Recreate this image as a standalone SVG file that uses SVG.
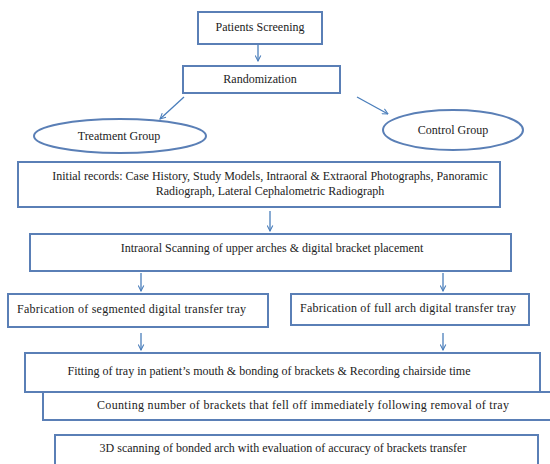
<svg xmlns="http://www.w3.org/2000/svg" width="550" height="464" viewBox="0 0 550 464">
<defs>
<style>
.box{fill:#fff;stroke:#5a7fb6;stroke-width:2}
.t{font-family:"Liberation Serif","Times New Roman",serif;font-size:12px;fill:#222}
.c{text-anchor:middle}
.ar{stroke:#4a7ebb;stroke-width:1.3;fill:none;marker-end:url(#ah)}
</style>
<marker id="ah" viewBox="0 0 10 10" refX="9" refY="5" markerWidth="7" markerHeight="7" orient="auto" markerUnits="userSpaceOnUse">
<path d="M1,1 L9,5 L1,9" fill="none" stroke="#4a7ebb" stroke-width="1.5"/>
</marker>
</defs>
<rect width="550" height="464" fill="#fff"/>
<g id="connectors">
<line class="ar" x1="258" y1="45" x2="258" y2="61"/>
<line class="ar" x1="184" y1="97" x2="160" y2="119"/>
<line class="ar" x1="357" y1="97" x2="388" y2="114"/>
<line class="ar" x1="270" y1="211" x2="270" y2="231"/>
<line class="ar" x1="141" y1="273" x2="141" y2="291"/>
<line class="ar" x1="443" y1="273" x2="443" y2="291"/>
<line class="ar" x1="141" y1="333" x2="141" y2="350"/>
<line class="ar" x1="443" y1="333" x2="443" y2="350"/>
</g>
<g id="patients-screening">
<rect class="box" x="198" y="12" width="124" height="32"/>
<text class="t c" x="260" y="31">Patients Screening</text>
</g>
<g id="randomization">
<rect class="box" x="183" y="66" width="157" height="27"/>
<text class="t c" x="260" y="83">Randomization</text>
</g>
<g id="treatment-group">
<ellipse class="box" cx="120" cy="136" rx="86" ry="17"/>
<text class="t c" x="119" y="140">Treatment Group</text>
</g>
<g id="control-group">
<ellipse class="box" cx="453" cy="130" rx="70" ry="20"/>
<text class="t c" x="453" y="134">Control Group</text>
</g>
<g id="initial-records">
<rect class="box" x="18" y="162" width="482" height="45"/>
<text class="t c" x="270" y="180">Initial records: Case History, Study Models, Intraoral &amp; Extraoral Photographs, Panoramic</text>
<text class="t c" x="270" y="195">Radiograph, Lateral Cephalometric Radiograph</text>
</g>
<g id="intraoral-scanning">
<rect class="box" x="30" y="234" width="481" height="37"/>
<text class="t c" x="272" y="252">Intraoral Scanning of upper arches &amp; digital bracket placement</text>
</g>
<g id="fab-segmented">
<rect class="box" x="8" y="294" width="260" height="33"/>
<text class="t" x="17" y="313" textLength="229">Fabrication of segmented digital transfer tray</text>
</g>
<g id="fab-full-arch">
<rect class="box" x="291" y="294" width="238" height="31"/>
<text class="t" x="300" y="312" textLength="216">Fabrication of full arch digital transfer tray</text>
</g>
<g id="fitting">
<rect class="box" x="25" y="353" width="515" height="39"/>
<text class="t c" x="269" y="375">Fitting of tray in patient’s mouth &amp; bonding of brackets &amp; Recording chairside time</text>
</g>
<g id="counting">
<rect class="box" x="43" y="392" width="512" height="28"/>
<text class="t" x="97" y="409" textLength="412">Counting number of brackets that fell off immediately following removal of tray</text>
</g>
<g id="scanning-3d">
<rect class="box" x="55" y="435" width="483" height="40"/>
<text class="t c" x="283" y="452">3D scanning of bonded arch with evaluation of accuracy of brackets transfer</text>
</g>
</svg>
